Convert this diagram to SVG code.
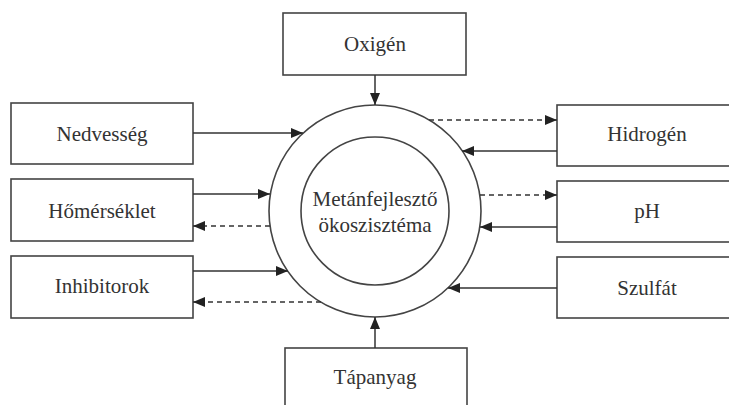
<svg xmlns="http://www.w3.org/2000/svg" width="729" height="405" viewBox="0 0 729 405">
<style>
.box{fill:#fff;stroke:#444;stroke-width:1.6}
.circ{fill:none;stroke:#444;stroke-width:1.6}
.lbl{font-family:"Liberation Serif","Times New Roman",serif;font-size:21px;fill:#333;text-anchor:middle}
.ln{stroke:#333;stroke-width:1.5;fill:none}
.dash{stroke-dasharray:5 4}
</style>
<defs>
<marker id="ah" markerUnits="userSpaceOnUse" markerWidth="12" markerHeight="10" refX="12" refY="5" orient="auto">
<path d="M0,0 L12,5 L0,10 Z" fill="#222"/>
</marker>
</defs>
<rect width="729" height="405" fill="#fff"/>
<g id="center">
<circle class="circ" cx="375" cy="211" r="106"/>
<circle class="circ" cx="375" cy="211" r="74"/>
<text class="lbl" x="375" y="206">Metánfejlesztő</text>
<text class="lbl" x="375" y="232">ökoszisztéma</text>
</g>
<g id="oxigen"><rect class="box" x="283" y="13" width="183" height="62"/><text class="lbl" x="375" y="51">Oxigén</text></g>
<g id="nedvesseg"><rect class="box" x="11" y="103" width="182" height="61"/><text class="lbl" x="102" y="141">Nedvesség</text></g>
<g id="homerseklet"><rect class="box" x="11" y="179" width="182" height="62"/><text class="lbl" x="102" y="218">Hőmérséklet</text></g>
<g id="inhibitorok"><rect class="box" x="11" y="256" width="182" height="62"/><text class="lbl" x="102" y="293">Inhibitorok</text></g>
<g id="hidrogen"><rect class="box" x="557" y="105" width="190" height="61"/><text class="lbl" x="647" y="141">Hidrogén</text></g>
<g id="ph"><rect class="box" x="557" y="181" width="190" height="61"/><text class="lbl" x="647" y="218">pH</text></g>
<g id="szulfat"><rect class="box" x="557" y="257" width="190" height="61"/><text class="lbl" x="647" y="295">Szulfát</text></g>
<g id="tapanyag"><rect class="box" x="285" y="348" width="182" height="70"/><text class="lbl" x="375" y="384">Tápanyag</text></g>
<g id="connectors">
<line class="ln" x1="375" y1="75" x2="375" y2="105" marker-end="url(#ah)"/>
<line class="ln" x1="375" y1="348" x2="375" y2="317" marker-end="url(#ah)"/>
<line class="ln" x1="193" y1="133" x2="303" y2="133" marker-end="url(#ah)"/>
<line class="ln" x1="193" y1="194" x2="270" y2="194" marker-end="url(#ah)"/>
<line class="ln dash" x1="270" y1="226" x2="193" y2="226" marker-end="url(#ah)"/>
<line class="ln" x1="193" y1="271" x2="288" y2="271" marker-end="url(#ah)"/>
<line class="ln dash" x1="321" y1="302" x2="193" y2="302" marker-end="url(#ah)"/>
<line class="ln dash" x1="429" y1="120" x2="557" y2="120" marker-end="url(#ah)"/>
<line class="ln" x1="557" y1="151" x2="462" y2="151" marker-end="url(#ah)"/>
<line class="ln dash" x1="480" y1="195" x2="557" y2="195" marker-end="url(#ah)"/>
<line class="ln" x1="557" y1="227" x2="480" y2="227" marker-end="url(#ah)"/>
<line class="ln" x1="557" y1="288" x2="448" y2="288" marker-end="url(#ah)"/>
</g>
</svg>
